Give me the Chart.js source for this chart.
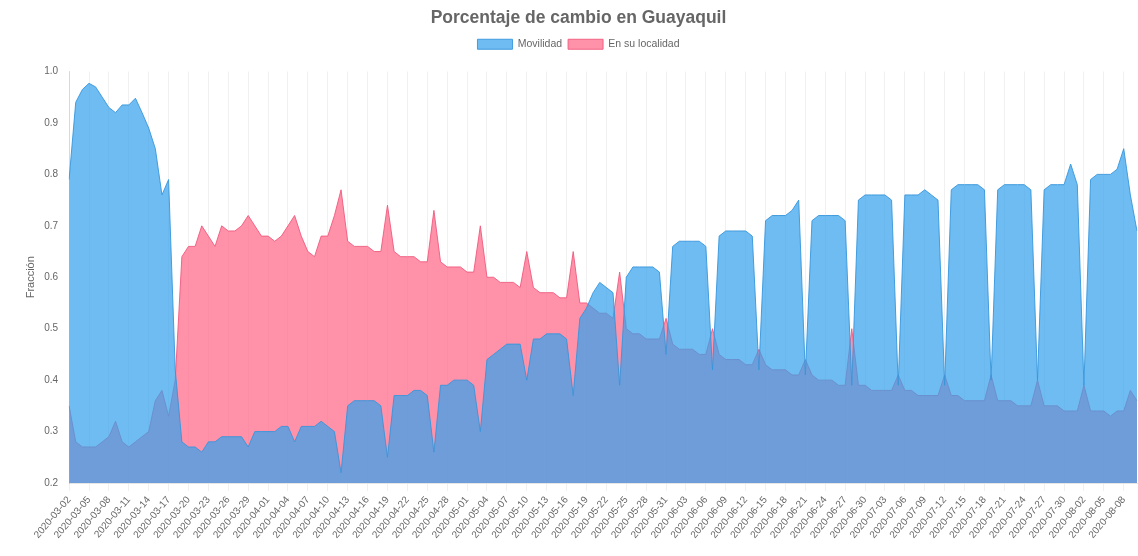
<!DOCTYPE html>
<html>
<head>
<meta charset="utf-8">
<script src="https://cdn.jsdelivr.net/npm/chart.js@4.4.0/dist/chart.umd.min.js"></script>
<style>
  html, body { margin: 0; padding: 0; background: #fff; }
  #wrap { width: 1138px; height: 556px; }
</style>
</head>
<body>
<div id="wrap"><canvas id="cambioChart"></canvas></div>
<script>
// dias desde el 2 de marzo de 2020
const startDate = '2020-03-02'
const numDays = 162

const movilidad = [
  0.79, 0.94, 0.965, 0.977, 0.97, 0.95, 0.93, 0.92, 0.935, 0.935, 0.948, 0.92, 0.89, 0.85, 0.76, 0.79, 0.42, 0.28,
  0.27, 0.27, 0.26, 0.28, 0.28, 0.29, 0.29, 0.29, 0.29, 0.27, 0.30, 0.30, 0.30, 0.30, 0.31, 0.31, 0.28, 0.31, 0.31, 0.31, 0.32, 0.31, 0.30, 0.22,
  0.35, 0.36, 0.36, 0.36, 0.36, 0.35, 0.25,
  0.37, 0.37, 0.37, 0.38, 0.38, 0.37, 0.26,
  0.39, 0.39, 0.40, 0.40, 0.40, 0.39, 0.30,
  0.44, 0.45, 0.46, 0.47, 0.47, 0.47, 0.40,
  0.48, 0.48, 0.49, 0.49, 0.49, 0.48, 0.37,
  0.52, 0.54, 0.57, 0.59, 0.58, 0.57, 0.39,
  0.60, 0.62, 0.62, 0.62, 0.62, 0.61, 0.45,
  0.66, 0.67, 0.67, 0.67, 0.67, 0.66, 0.42,
  0.68, 0.69, 0.69, 0.69, 0.69, 0.68, 0.42,
  0.71, 0.72, 0.72, 0.72, 0.73, 0.75, 0.41,
  0.71, 0.72, 0.72, 0.72, 0.72, 0.71, 0.39,
  0.75, 0.76, 0.76, 0.76, 0.76, 0.75, 0.39,
  0.76, 0.76, 0.76, 0.77, 0.76, 0.75, 0.39,
  0.77, 0.78, 0.78, 0.78, 0.78, 0.77, 0.40,
  0.77, 0.78, 0.78, 0.78, 0.78, 0.77, 0.40,
  0.77, 0.78, 0.78, 0.78, 0.82, 0.78, 0.39,
  0.79, 0.80, 0.80, 0.80, 0.81, 0.85, 0.76, 0.69
]

const enLocalidad = [
  0.35, 0.28, 0.27, 0.27, 0.27, 0.28, 0.29, 0.32, 0.28, 0.27, 0.28, 0.29, 0.30, 0.36, 0.38, 0.33, 0.40, 0.64,
  0.66, 0.66, 0.70, 0.68, 0.66, 0.70, 0.69, 0.69, 0.70, 0.72, 0.70, 0.68, 0.68, 0.67, 0.68, 0.70, 0.72, 0.68, 0.65, 0.64, 0.68, 0.68, 0.72, 0.77,
  0.67, 0.66, 0.66, 0.66, 0.65, 0.65, 0.74,
  0.65, 0.64, 0.64, 0.64, 0.63, 0.63, 0.73,
  0.63, 0.62, 0.62, 0.62, 0.61, 0.61, 0.70,
  0.60, 0.60, 0.59, 0.59, 0.59, 0.58, 0.65,
  0.58, 0.57, 0.57, 0.57, 0.56, 0.56, 0.65,
  0.55, 0.55, 0.54, 0.53, 0.53, 0.52, 0.61,
  0.50, 0.49, 0.49, 0.48, 0.48, 0.48, 0.52,
  0.47, 0.46, 0.46, 0.46, 0.45, 0.45, 0.50,
  0.45, 0.44, 0.44, 0.44, 0.43, 0.43, 0.46,
  0.43, 0.42, 0.42, 0.42, 0.41, 0.41, 0.44,
  0.41, 0.40, 0.40, 0.40, 0.39, 0.39, 0.50,
  0.39, 0.39, 0.38, 0.38, 0.38, 0.38, 0.41,
  0.38, 0.38, 0.37, 0.37, 0.37, 0.37, 0.41,
  0.37, 0.37, 0.36, 0.36, 0.36, 0.36, 0.41,
  0.36, 0.36, 0.36, 0.35, 0.35, 0.35, 0.40,
  0.35, 0.35, 0.35, 0.34, 0.34, 0.34, 0.39,
  0.34, 0.34, 0.34, 0.33, 0.34, 0.34, 0.38, 0.36
]

const yMin = 0.2
const yMax = 1.0

// etiquetas de fecha
const fechas = []
for (let i = 0; i < numDays; i++) {
  const d = new Date(startDate + 'T00:00:00Z')
  d.setUTCDate(d.getUTCDate() + i)
  fechas.push(d.toISOString().slice(0, 10))
}

Chart.defaults.font.family = "'Liberation Sans', Arial, sans-serif"
Chart.defaults.color = '#666'

// espacio extra debajo de la leyenda
const legendMargin = {
  id: 'legendMargin',
  beforeInit(chart) {
    const fit = chart.legend.fit
    chart.legend.fit = function () {
      fit.bind(chart.legend)()
      this.height += 12
    }
  }
}

const ctx = document.getElementById('cambioChart').getContext('2d')

const cambioChart = new Chart(ctx, {
  type: 'line',
  data: {
    labels: fechas,
    datasets: [{
      label: 'Movilidad',
      data: movilidad,
      backgroundColor: 'rgba(54, 162, 235, 0.72)',
      borderColor: 'rgba(54, 150, 220, 0.9)',
      borderWidth: 1,
      fill: 'start',
      pointRadius: 0
    }, {
      label: 'En su localidad',
      data: enLocalidad,
      backgroundColor: 'rgba(255, 99, 132, 0.7)',
      borderColor: 'rgba(240, 90, 125, 0.9)',
      borderWidth: 1,
      fill: 'start',
      pointRadius: 0
    }]
  },
  plugins: [legendMargin],
  options: {
    responsive: true,
    maintainAspectRatio: false,
    animation: false,
    layout: { padding: { left: 20, right: 1 } },
    plugins: {
      title: {
        display: true,
        text: 'Porcentaje de cambio en Guayaquil',
        font: { size: 17.5, weight: 'bold' },
        padding: { top: 8, bottom: 4 }
      },
      legend: {
        labels: { boxWidth: 35, boxHeight: 10, font: { size: 10.5 }, padding: 6 }
      },
      tooltip: { enabled: false }
    },
    scales: {
      x: {
        grid: { color: 'rgba(0, 0, 0, 0.06)' },
        ticks: { font: { size: 10 }, maxRotation: 50, minRotation: 50 },
        afterFit: scale => { scale.height = 73 }
      },
      y: {
        min: yMin,
        max: yMax,
        grid: { display: false },
        ticks: { stepSize: 0.1, font: { size: 10 }, callback: v => v.toFixed(1) },
        title: { display: true, text: 'Fracción', font: { size: 11 } }
      }
    }
  }
})
</script>
</body>
</html>
